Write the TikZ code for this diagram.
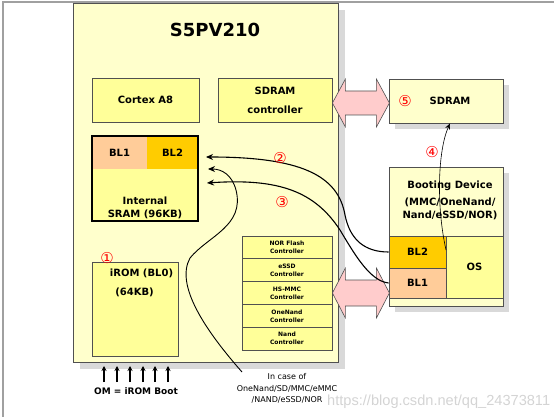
\documentclass[tikz,border=0pt]{standalone}
\usepackage{fontspec}
\setmainfont{DejaVu Sans}
\newfontfamily\markfont{Liberation Sans}
\usetikzlibrary{arrows.meta,shadows}

\definecolor{chipfill}{HTML}{FFFFCC}
\definecolor{unitfill}{HTML}{FFFF99}
\definecolor{blafill}{HTML}{FFCC99}
\definecolor{blbfill}{HTML}{FFCC00}
\definecolor{busfill}{HTML}{FFCCCC}
\definecolor{shade}{HTML}{D9D9D9}
\definecolor{edge}{HTML}{505050}
\definecolor{framegray}{HTML}{A0A0A0}

\tikzset{
  chipbox/.style={draw=edge, line width=0.8pt, fill=chipfill, inner sep=0pt},
  dropbox/.style={drop shadow={shadow xshift=#1, shadow yshift=-#1, fill=shade, opacity=1}},
  unitbox/.style={draw=edge, line width=0.8pt, fill=unitfill, inner sep=0pt,
    align=center, font=\bfseries\fontsize{10}{12}\selectfont},
  ctlbox/.style={unitbox, minimum width=90pt, minimum height=22.8pt,
    font=\bfseries\fontsize{6}{8}\selectfont},
  blbox/.style={fill=#1, draw=none, inner sep=0pt, font=\bfseries\fontsize{10}{12}\selectfont},
  lbl/.style={inner sep=1pt, font=\bfseries\fontsize{10}{12}\selectfont},
  num/.style={text=red, inner sep=0pt, font=\fontsize{15}{15}\selectfont},
  bus/.style={draw=edge, line width=0.6pt, fill=busfill},
  flow/.style={-{Stealth[length=7pt,width=6pt]}, line width=1.1pt},
  load/.style={-{Stealth[length=6pt,width=5pt]}, line width=0.6pt},
  omarrow/.style={-{Stealth[length=5pt,width=5pt]}, line width=1.2pt},
}

\begin{document}
\begin{tikzpicture}[x=1pt, y=-1pt]
\useasboundingbox (0,0) rectangle (554,417);
% frame of the screenshot
\draw[framegray, line width=1.2pt] (3,417) -- (3,2) -- (554,2);

% the chip
\node[chipbox, dropbox=7pt, minimum width=265pt, minimum height=359pt] (chip) at (205.5,182.5) {};
\node[font=\bfseries\fontsize{18}{18}\selectfont] (title) at (215,30) {S5PV210};

\node[unitbox, minimum width=107pt, minimum height=44pt] (cortex) at (145.5,100) {Cortex A8};
\node[unitbox, minimum width=114pt, minimum height=44pt,
  font=\bfseries\fontsize{10}{19}\selectfont] (sdramc) at (275,100) {SDRAM\\controller};

% internal SRAM
\node[unitbox, draw=none, minimum width=106pt, minimum height=85pt] (sram) at (145,178.5) {};
\node[blbox=blafill, minimum width=55pt, minimum height=33pt] (srambla) at (119.5,152.5) {BL1};
\node[blbox=blbfill, minimum width=51pt, minimum height=33pt] (sramblb) at (172.5,152.5) {BL2};
\draw[line width=2pt] (sram.south west) rectangle (sram.north east);
\node[lbl, align=center, font=\bfseries\fontsize{10}{13}\selectfont] (sramtxt) at (145,207.5) {Internal\\SRAM (96KB)};

% iROM
\node[unitbox, minimum width=86pt, minimum height=94pt] (irom) at (135,309) {};
\node[num] (n1) at (107,258) {①};
\node[lbl] (iromtxt) at (141.5,273) {iROM (BL0)};
\node[lbl] (iromsize) at (134.5,292) {(64KB)};

% controllers
\foreach \name [count=\i] in {NOR Flash, eSSD, HS-MMC, OneNand, Nand}
  \node[ctlbox] (ctl\i) at (287,224.6+22.8*\i) {\name\\Controller};

% SDRAM
\node[chipbox, dropbox=6pt, minimum width=114pt, minimum height=44pt] (sdram) at (446,101) {};
\node[lbl] (sdramtxt) at (450,101) {SDRAM};
\node[num] (n5) at (405,101) {⑤};

% booting device
\node[chipbox, dropbox=6pt, minimum width=114pt, minimum height=139pt] (bootdev) at (446,236.5) {};
\node[lbl, align=center, font=\bfseries\fontsize{10}{13}\selectfont] (boottxt) at (450,200.5)
  {Booting Device\\[3.5pt](MMC/OneNand/\\Nand/eSSD/NOR)};
\node[unitbox, fill=blbfill, minimum width=57pt, minimum height=32pt] (bootbla) at (417.5,252) {BL2};
\node[unitbox, fill=blafill, minimum width=57pt, minimum height=30pt] (bootblb) at (417.5,283) {BL1};
\node[unitbox, minimum width=57pt, minimum height=62pt] (bootos) at (474.5,267) {OS};

% buses
\draw[bus] ([yshift=-3pt]sdramc.east) -- ++(13,-24) -- ++(0,12) -- ++(31,0) -- ++(0,-12)
  -- ++(13,24) -- ++(-13,24) -- ++(0,-12) -- ++(-31,0) -- ++(0,12) -- cycle;
\draw[bus] (ctl3.east) -- ++(13,-25) -- ++(0,12) -- ++(31,0) -- ++(0,-12)
  -- ++(13,25) -- ++(-13,25) -- ++(0,-12) -- ++(-31,0) -- ++(0,12) -- cycle;

% copies into SRAM
\coordinate (in2) at (206,157);
\coordinate (in4) at (208,169);
\coordinate (in3) at (207,183);
\draw[flow] (bootbla.west) .. controls (365,252) and (350,240) .. (345,215)
  .. controls (338,175) and (300,157) .. (in2);
\draw[flow] (bootblb.west) .. controls (370,281) and (355,255) .. (340,230)
  .. controls (315,192) and (280,178) .. (in3);
\node[num] (n2) at (280,158) {②};
\node[num] (n3) at (282,202) {③};

\node[align=center, inner sep=1pt, font=\fontsize{8}{11.5}\selectfont] (casetxt) at (287,388.5)
  {In case of\\OneNand/SD/MMC/eMMC\\/NAND/eSSD/NOR};
\coordinate (note) at (242,372);
\draw[flow, line width=0.9pt] (note) .. controls (205,330) and (175,285) .. (190,258)
  .. controls (208,236) and (245,226) .. (236,190)
  .. controls (232,175) and (222,169) .. (in4);

% OS into SDRAM
\coordinate (imgsrc) at (446,250);
\draw[load] (imgsrc) .. controls (436,205) and (438,150) .. ([xshift=4pt]sdram.south);
\node[num] (n4) at (432,152) {④};

% OM pins
\foreach \x in {104,117,130,143,155,168}
  \draw[omarrow] (\x,382) -- (\x,366);
\node[lbl, font=\bfseries\fontsize{9}{9}\selectfont] (omtxt) at (136,391) {OM = iROM Boot};

\node[anchor=base west, inner sep=0pt, text=gray!40, opacity=0.85,
  font=\markfont\fontsize{14.6}{14.6}\selectfont] (mark) at (327,405) {https://blog.csdn.net/qq\_24373811};
\end{tikzpicture}
\end{document}
